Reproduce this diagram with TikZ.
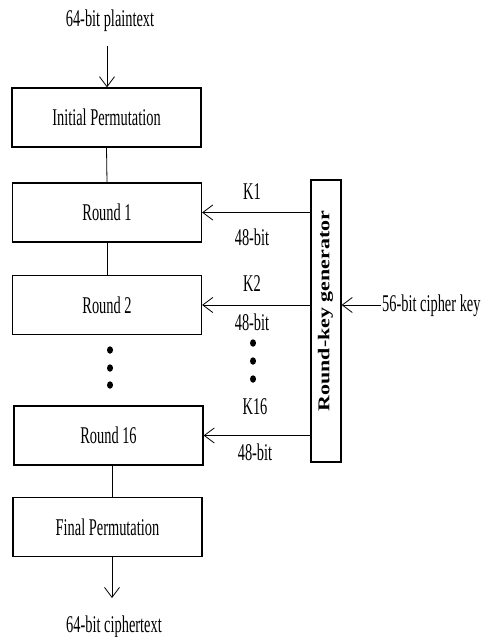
\documentclass[tikz,border=0pt]{standalone}
\usepackage{fontspec}
\setmainfont[FakeStretch=0.6]{Liberation Serif}
\newfontfamily\genfont{Liberation Serif}
\usetikzlibrary{arrows.meta,shapes.geometric}
\begin{document}
\begin{tikzpicture}[x=1pt,y=-1pt,
  every node/.style={font=\fontsize{24}{28}\selectfont},
  stage/.style={draw, line width=1.2pt, minimum width=189pt, minimum height=59pt, inner sep=0pt},
  wire/.style={line width=0.8pt},
  flow/.style={line width=0.8pt, -{Straight Barb[length=10pt,width=15pt,line width=0.8pt]}},
  lbl/.style={inner sep=0pt},
  dot/.style={fill, ellipse, inner sep=0pt, minimum width=6pt, minimum height=7.5pt}]
  \useasboundingbox[fill=white] (0,0) rectangle (480,637);

  % main chain of stages
  \node[lbl] (pt) at (110,21) {64-bit plaintext};
  \coordinate (ptend) at (107,46);
  \node[stage] (ip)  at (106.5,117.5) {Initial Permutation};
  \node[stage] (r1)  at (107,212.5) {Round 1};
  \node[stage] (r2)  at (107,305) {Round 2};
  \node[stage] (r16) at (108.5,435.5) {Round 16};
  \node[stage] (fp)  at (107.5,527) {Final Permutation};
  \coordinate (ctend) at (112,598);
  \node[lbl] (ct) at (114,627) {64-bit ciphertext};

  \draw[flow] (ptend) -- (ip.north -| ptend);
  \draw[wire] (ip.south) -- (r1.north);
  \draw[wire] (r1.south) -- (r2.north);
  \draw[wire] (r16.south -| ctend) -- (fp.north -| ctend);
  \draw[flow] (fp.south -| ctend) -- (ctend);

  % ellipsis between round 2 and round 16
  \node[dot] (d1) at (110,350) {};
  \node[dot] (d2) at (110,368) {};
  \node[dot] (d3) at (110,385) {};

  % key schedule
  \node[draw, line width=1.2pt, minimum width=30pt, minimum height=282pt, inner sep=0pt] (gen) at (326,321) {};
  \node[rotate=90, font=\genfont\fontsize{22}{26}\selectfont\bfseries] (gentxt) at (325.5,311) {\scalebox{1}[0.75]{Round-key generator}};

  \draw[flow] (r1.east -| gen.west) -- (r1.east);
  \draw[flow] (r2.east -| gen.west) -- (r2.east);
  \draw[flow] (r16.east -| gen.west) -- (r16.east);

  \node[lbl] (k1)  at (252,192) {K1};
  \node[lbl] (b1)  at (252,237) {48-bit};
  \node[lbl] (k2)  at (252,284) {K2};
  \node[lbl] (b2)  at (252,322) {48-bit};
  \node[lbl] (k16) at (255,407) {K16};
  \node[lbl] (b16) at (255,452) {48-bit};

  \node[dot] (e1) at (253,343) {};
  \node[dot] (e2) at (253,361) {};
  \node[dot] (e3) at (253,379) {};

  \coordinate (keyin) at (381,305);
  \node[lbl, anchor=west] (key) at (382,306) {56-bit cipher key};
  \draw[flow] (keyin) -- (keyin -| gen.east);
\end{tikzpicture}
\end{document}
